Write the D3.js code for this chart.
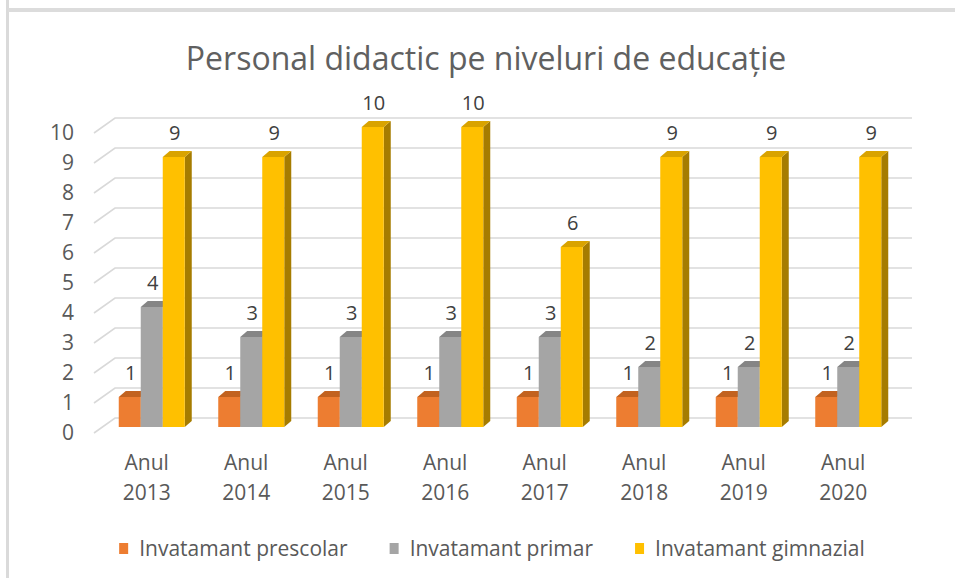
<!DOCTYPE html>
<html>
<head>
<meta charset="utf-8">
<script src="https://cdn.jsdelivr.net/npm/d3@7"></script>
<style>
  body { margin: 0; background: #fff; }
  svg { display: block; font-family: "Open Sans", Lato, sans-serif; }
</style>
</head>
<body>
<svg id="chart"></svg>
<script>
// chart data
var title = "Personal didactic pe niveluri de educație";
var years = ["2013", "2014", "2015", "2016", "2017", "2018", "2019", "2020"];
var seriesNames = ["Invatamant prescolar", "Invatamant primar", "Invatamant gimnazial"];
var prescolar = [1, 1, 1, 1, 1, 1, 1, 1];
var primar = [4, 3, 3, 3, 3, 2, 2, 2];
var gimnazial = [9, 9, 10, 10, 6, 9, 9, 9];
var yTicks = [0, 1, 2, 3, 4, 5, 6, 7, 8, 9, 10];

var width = 955, height = 578;
var colors = ["#ED7D31", "#A5A5A5", "#FFC000"];
var topColors = ["#C2621F", "#858585", "#D9A300"];
var sideColors = ["#B35A1C", "#7C7C7C", "#A67C00"];

var svg = d3.select("#chart").attr("width", width).attr("height", height);

// frame of the chart area
svg.append("rect").attr("x", 6).attr("y", 0).attr("width", 3).attr("height", height).attr("fill", "#dadada");
svg.append("rect").attr("x", 8).attr("y", 8).attr("width", width - 8).attr("height", 4).attr("fill", "#dcdcdc");

// front plane scales
var x = d3.scaleBand().domain(years).range([97, 893]).padding(0);
var y = d3.scaleLinear().domain([0, 10]).range([433, 133]);

// 3d offsets
var wall = {dx: 21, dy: -15};   // back wall vs front
var plane = {dx: 5, dy: -6};    // bar front plane vs front
var depth = {dx: 7, dy: -6};    // bar thickness
var barW = 22;

// gridlines (back wall + side wall)
var grid = svg.append("g").attr("stroke", "#d9d9d9").attr("stroke-width", 1.6).attr("fill", "none");
grid.selectAll("path")
  .data(yTicks)
  .join("path")
  .attr("d", d => `M${x.range()[0] - 3},${y(d)}L${x.range()[0] - 3 + wall.dx},${y(d) + wall.dy}L${912},${y(d) + wall.dy}`);

// y axis labels
svg.append("g").selectAll("text")
  .data(yTicks)
  .join("text")
  .attr("x", 74)
  .attr("y", d => y(d))
  .attr("dy", "0.35em")
  .attr("text-anchor", "end")
  .attr("font-size", 21)
  .attr("fill", "#595959")
  .text(d => d);

// bars
var series = [prescolar, primar, gimnazial];
var groups = svg.append("g").selectAll("g")
  .data(years)
  .join("g");

groups.each(function(yr, i) {
  var g = d3.select(this);
  var cx = x(yr) + x.bandwidth() / 2 + plane.dx;
  var x0 = cx - barW * 1.5;
  series.forEach(function(vals, s) {
    var v = vals[i];
    var l = x0 + s * barW, r = l + barW;
    var yb = y(0) + plane.dy, yt = y(v) + plane.dy;
    g.append("path")
      .attr("fill", sideColors[s])
      .attr("d", `M${r},${yt}L${r + depth.dx},${yt + depth.dy}L${r + depth.dx},${yb + depth.dy}L${r},${yb}Z`);
    g.append("path")
      .attr("fill", topColors[s])
      .attr("d", `M${l},${yt}L${l + depth.dx},${yt + depth.dy}L${r + depth.dx},${yt + depth.dy}L${r},${yt}Z`);
    g.append("rect")
      .attr("x", l).attr("y", yt)
      .attr("width", barW).attr("height", yb - yt)
      .attr("fill", colors[s]);
    g.append("text")
      .attr("x", (l + r) / 2 + 1)
      .attr("y", yt - 24)
      .attr("dy", "0.35em")
      .attr("text-anchor", "middle")
      .attr("font-size", 20)
      .attr("fill", "#404040")
      .text(v);
  });
});

// category labels
var cat = svg.append("g").selectAll("text")
  .data(years)
  .join("text")
  .attr("text-anchor", "middle")
  .attr("font-size", 21)
  .attr("fill", "#595959");
cat.append("tspan").attr("x", d => x(d) + x.bandwidth() / 2).attr("y", 470).text("Anul");
cat.append("tspan").attr("x", d => x(d) + x.bandwidth() / 2).attr("y", 500).text(d => d);

// title
svg.append("text")
  .attr("x", 486)
  .attr("y", 70)
  .attr("text-anchor", "middle")
  .attr("font-size", 32)
  .attr("fill", "#606060")
  .text(title);

// legend
var legend = svg.append("g");
var items = legend.selectAll("g")
  .data(seriesNames)
  .join("g");
items.append("rect")
  .attr("width", 9).attr("height", 11)
  .attr("y", 543)
  .attr("fill", (d, i) => colors[i]);
items.append("text")
  .attr("x", 20)
  .attr("y", 549)
  .attr("dy", "0.35em")
  .attr("font-size", 21)
  .attr("fill", "#595959")
  .text(d => d);

var pos = 0, offs = [];
items.each(function() {
  offs.push(pos);
  pos += 20 + d3.select(this).select("text").node().getComputedTextLength() + 42;
});
var total = pos - 42;
var start = 492 - total / 2;
items.attr("transform", (d, i) => `translate(${start + offs[i]},0)`);
</script>
</body>
</html>
